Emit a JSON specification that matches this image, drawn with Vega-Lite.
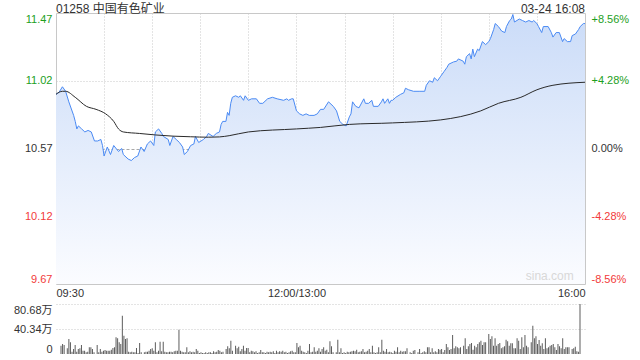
{
 "$schema": "https://vega.github.io/schema/vega-lite/v6.json",
 "background": "white",
 "padding": {"left": 5, "right": 5, "top": 2, "bottom": 5},
 "config": {
  "font": "Liberation Sans, Noto Sans CJK SC, sans-serif",
  "view": {"stroke": "#c8c8c8"},
  "axis": {"labelFont": "Liberation Sans, Noto Sans CJK SC, sans-serif", "labelFontSize": 11, "labelColor": "#333", "ticks": false, "domain": false, "title": null, "gridDash": [1, 2], "gridColor": "#c8c8c8", "gridWidth": 1}
 },
 "datasets": {
  "price": [
   {"t":0,"p":10.93},{"t":2,"p":10.945},{"t":4,"p":10.98},{"t":6,"p":10.95},{"t":8,"p":10.88},{"t":11,"p":10.79},{"t":12,"p":10.75},{"t":13,"p":10.70},{"t":14,"p":10.72},{"t":16,"p":10.70},{"t":18,"p":10.68},{"t":20,"p":10.69},{"t":22,"p":10.68},{"t":24,"p":10.62},{"t":26,"p":10.62},{"t":28,"p":10.63},{"t":29,"p":10.59},{"t":30,"p":10.52},{"t":32,"p":10.58},{"t":34,"p":10.53},{"t":36,"p":10.59},{"t":39,"p":10.55},{"t":41,"p":10.57},{"t":42,"p":10.53},{"t":45,"p":10.50},{"t":47,"p":10.49},{"t":49,"p":10.51},{"t":51,"p":10.52},{"t":53,"p":10.58},{"t":55,"p":10.55},{"t":57,"p":10.60},{"t":59,"p":10.62},{"t":61,"p":10.59},{"t":62,"p":10.68},{"t":64,"p":10.70},{"t":66,"p":10.67},{"t":67,"p":10.65},{"t":70,"p":10.63},{"t":71,"p":10.59},{"t":73,"p":10.65},{"t":75,"p":10.63},{"t":77,"p":10.61},{"t":79,"p":10.58},{"t":80,"p":10.53},{"t":82,"p":10.55},{"t":84,"p":10.59},{"t":86,"p":10.60},{"t":87,"p":10.65},{"t":89,"p":10.61},{"t":92,"p":10.63},{"t":94,"p":10.65},{"t":95,"p":10.67},{"t":98,"p":10.65},{"t":100,"p":10.67},{"t":102,"p":10.68},{"t":103,"p":10.73},{"t":104,"p":10.75},{"t":106,"p":10.75},{"t":107,"p":10.81},{"t":108,"p":10.79},{"t":109,"p":10.87},{"t":110,"p":10.91},{"t":112,"p":10.92},{"t":114,"p":10.91},{"t":115,"p":10.92},{"t":117,"p":10.89},{"t":118,"p":10.92},{"t":120,"p":10.89},{"t":122,"p":10.90},{"t":125,"p":10.90},{"t":127,"p":10.87},{"t":129,"p":10.87},{"t":132,"p":10.90},{"t":135,"p":10.91},{"t":138,"p":10.90},{"t":142,"p":10.89},{"t":144,"p":10.90},{"t":145,"p":10.89},{"t":147,"p":10.90},{"t":148,"p":10.90},{"t":150,"p":10.82},{"t":152,"p":10.80},{"t":154,"p":10.79},{"t":156,"p":10.80},{"t":158,"p":10.79},{"t":161,"p":10.79},{"t":163,"p":10.80},{"t":165,"p":10.83},{"t":167,"p":10.83},{"t":170,"p":10.88},{"t":173,"p":10.85},{"t":175,"p":10.82},{"t":177,"p":10.75},{"t":179,"p":10.73},{"t":181,"p":10.72},{"t":183,"p":10.78},{"t":184,"p":10.80},{"t":185,"p":10.88},{"t":187,"p":10.85},{"t":189,"p":10.84},{"t":192,"p":10.90},{"t":193,"p":10.87},{"t":195,"p":10.87},{"t":197,"p":10.89},{"t":198,"p":10.85},{"t":201,"p":10.85},{"t":203,"p":10.88},{"t":204,"p":10.90},{"t":205,"p":10.87},{"t":207,"p":10.90},{"t":208,"p":10.87},{"t":209,"p":10.89},{"t":210,"p":10.89},{"t":212,"p":10.91},{"t":215,"p":10.93},{"t":217,"p":10.94},{"t":218,"p":10.97},{"t":220,"p":10.96},{"t":223,"p":10.95},{"t":227,"p":10.95},{"t":230,"p":10.95},{"t":231,"p":10.99},{"t":233,"p":11.02},{"t":235,"p":11.01},{"t":236,"p":11.04},{"t":238,"p":11.02},{"t":240,"p":11.05},{"t":242,"p":11.08},{"t":244,"p":11.11},{"t":245,"p":11.13},{"t":248,"p":11.145},{"t":250,"p":11.15},{"t":251,"p":11.165},{"t":254,"p":11.15},{"t":255,"p":11.13},{"t":256,"p":11.18},{"t":258,"p":11.20},{"t":259,"p":11.165},{"t":260,"p":11.23},{"t":261,"p":11.18},{"t":263,"p":11.23},{"t":264,"p":11.22},{"t":266,"p":11.28},{"t":268,"p":11.26},{"t":270,"p":11.28},{"t":271,"p":11.30},{"t":273,"p":11.36},{"t":274,"p":11.40},{"t":276,"p":11.38},{"t":278,"p":11.35},{"t":280,"p":11.34},{"t":281,"p":11.38},{"t":283,"p":11.42},{"t":284,"p":11.43},{"t":285,"p":11.46},{"t":286,"p":11.41},{"t":289,"p":11.43},{"t":291,"p":11.42},{"t":293,"p":11.41},{"t":295,"p":11.42},{"t":297,"p":11.41},{"t":298,"p":11.42},{"t":300,"p":11.40},{"t":301,"p":11.38},{"t":303,"p":11.34},{"t":304,"p":11.38},{"t":307,"p":11.38},{"t":309,"p":11.34},{"t":310,"p":11.31},{"t":312,"p":11.34},{"t":314,"p":11.34},{"t":316,"p":11.28},{"t":317,"p":11.30},{"t":319,"p":11.28},{"t":321,"p":11.28},{"t":322,"p":11.32},{"t":324,"p":11.33},{"t":326,"p":11.36},{"t":327,"p":11.38},{"t":329,"p":11.40},{"t":330,"p":11.40}
  ],
  "avg": [
   {"t":0,"a":10.93},{"t":4,"a":10.95},{"t":6,"a":10.95},{"t":12,"a":10.91},{"t":19,"a":10.85},{"t":25,"a":10.83},{"t":31,"a":10.80},{"t":36,"a":10.75},{"t":39,"a":10.70},{"t":42,"a":10.68},{"t":52,"a":10.67},{"t":62,"a":10.66},{"t":73,"a":10.652},{"t":84,"a":10.648},{"t":95,"a":10.645},{"t":102,"a":10.647},{"t":108,"a":10.655},{"t":120,"a":10.68},{"t":150,"a":10.70},{"t":165,"a":10.71},{"t":183,"a":10.73},{"t":210,"a":10.74},{"t":240,"a":10.76},{"t":265,"a":10.82},{"t":276,"a":10.87},{"t":290,"a":10.91},{"t":300,"a":10.96},{"t":310,"a":10.99},{"t":330,"a":11.01}
  ],
  "vol": [
   {"t":0,"v":13.4},{"t":1,"v":16.1},{"t":2,"v":14.5},{"t":4,"v":9.1},{"t":5,"v":24.2},{"t":6,"v":18.8},{"t":7,"v":3.8},{"t":8,"v":8.1},{"t":9,"v":14.5},{"t":10,"v":3.8},{"t":11,"v":8.1},{"t":12,"v":9.1},{"t":13,"v":14.5},{"t":14,"v":5.4},{"t":15,"v":5.4},{"t":16,"v":2.7},{"t":17,"v":3.8},{"t":18,"v":10.8},{"t":19,"v":10.8},{"t":20,"v":8.1},{"t":21,"v":2.7},{"t":23,"v":14.5},{"t":24,"v":2.7},{"t":25,"v":8.1},{"t":26,"v":3.8},{"t":27,"v":5.4},{"t":28,"v":6.5},{"t":29,"v":5.4},{"t":30,"v":5.4},{"t":31,"v":5.4},{"t":32,"v":7},{"t":33,"v":9.7},{"t":34,"v":10.8},{"t":35,"v":26.9},{"t":36,"v":25.3},{"t":37,"v":18.8},{"t":38,"v":16.1},{"t":39,"v":61.9},{"t":40,"v":29.6},{"t":41,"v":24.2},{"t":42,"v":25.3},{"t":43,"v":3.8},{"t":44,"v":2.7},{"t":45,"v":3.8},{"t":46,"v":2.7},{"t":47,"v":2.7},{"t":48,"v":9.7},{"t":49,"v":1.6},{"t":50,"v":17.8},{"t":51,"v":2.7},{"t":53,"v":2.7},{"t":54,"v":3.8},{"t":55,"v":3.8},{"t":56,"v":5.4},{"t":57,"v":8.1},{"t":58,"v":9.1},{"t":59,"v":5.4},{"t":60,"v":18.8},{"t":61,"v":2.7},{"t":62,"v":5.4},{"t":63,"v":19.9},{"t":64,"v":4.3},{"t":65,"v":19.9},{"t":66,"v":3.8},{"t":67,"v":2.7},{"t":68,"v":2.7},{"t":69,"v":3.8},{"t":70,"v":3.8},{"t":71,"v":2.7},{"t":72,"v":4.3},{"t":73,"v":5.4},{"t":74,"v":5.4},{"t":75,"v":39.3},{"t":76,"v":5.4},{"t":77,"v":3.8},{"t":78,"v":2.7},{"t":79,"v":2.7},{"t":80,"v":10.8},{"t":81,"v":2.7},{"t":82,"v":4.3},{"t":83,"v":2.7},{"t":84,"v":3.8},{"t":85,"v":2.7},{"t":86,"v":8.1},{"t":87,"v":5.4},{"t":88,"v":1.6},{"t":89,"v":2.7},{"t":90,"v":1.6},{"t":91,"v":1.6},{"t":92,"v":2.7},{"t":93,"v":1.6},{"t":94,"v":2.7},{"t":95,"v":2.7},{"t":96,"v":1.6},{"t":97,"v":4.3},{"t":98,"v":2.7},{"t":99,"v":3.8},{"t":100,"v":6.5},{"t":101,"v":5.4},{"t":102,"v":2.7},{"t":103,"v":3.8},{"t":105,"v":8.1},{"t":106,"v":12.4},{"t":107,"v":9.1},{"t":108,"v":21.5},
   {"t":109,"v":5.4},{"t":111,"v":13.4},{"t":112,"v":9.1},{"t":113,"v":11.8},{"t":114,"v":4.3},{"t":115,"v":8.1},{"t":116,"v":13.4},{"t":117,"v":5.4},{"t":118,"v":9.7},{"t":119,"v":9.7},{"t":120,"v":2.7},{"t":121,"v":5.4},{"t":122,"v":4.3},{"t":123,"v":2.7},{"t":124,"v":4.3},{"t":125,"v":1.6},{"t":126,"v":2.7},{"t":127,"v":6.5},{"t":128,"v":2.7},{"t":129,"v":2.7},{"t":130,"v":1.6},{"t":131,"v":3.8},{"t":132,"v":2.7},{"t":133,"v":3.8},{"t":134,"v":2.7},{"t":135,"v":4.3},{"t":136,"v":1.6},{"t":137,"v":5.4},{"t":138,"v":2.7},{"t":139,"v":4.3},{"t":140,"v":3.8},{"t":141,"v":5.4},{"t":142,"v":2.7},{"t":143,"v":3.8},{"t":144,"v":1.6},{"t":145,"v":2.7},{"t":146,"v":4.3},{"t":147,"v":5.4},{"t":148,"v":2.7},{"t":149,"v":2.7},{"t":150,"v":17.8},{"t":151,"v":10.8},{"t":152,"v":13.4},{"t":153,"v":5.4},{"t":154,"v":3.8},{"t":155,"v":2.7},{"t":156,"v":1.6},{"t":157,"v":5.4},{"t":158,"v":16.1},{"t":159,"v":2.7},{"t":160,"v":3.8},{"t":161,"v":10.8},{"t":162,"v":3.8},{"t":163,"v":5.4},{"t":164,"v":9.1},{"t":165,"v":3.8},{"t":166,"v":8.1},{"t":167,"v":10.8},{"t":168,"v":5.4},{"t":169,"v":7},{"t":170,"v":2.7},{"t":171,"v":20.4},{"t":172,"v":12.4},{"t":173,"v":2.7},{"t":175,"v":2.7},{"t":176,"v":23.1},{"t":177,"v":2.7},{"t":178,"v":9.1},{"t":179,"v":1.6},{"t":180,"v":2.7},{"t":181,"v":1.6},{"t":182,"v":3.8},{"t":183,"v":2.7},{"t":184,"v":3.8},{"t":185,"v":4.3},{"t":186,"v":5.4},{"t":187,"v":4.3},{"t":188,"v":7},{"t":189,"v":2.7},{"t":190,"v":3.8},{"t":191,"v":4.3},{"t":192,"v":8.1},{"t":193,"v":2.7},{"t":194,"v":3.8},{"t":195,"v":5.4},{"t":196,"v":8.1},{"t":197,"v":2.7},{"t":198,"v":13.4},{"t":199,"v":2.7},{"t":200,"v":1.6},{"t":201,"v":2.7},{"t":202,"v":10.8},{"t":203,"v":2.7},{"t":204,"v":23.1},{"t":205,"v":5.4},{"t":206,"v":3.8},{"t":207,"v":8.1},{"t":208,"v":2.7},{"t":209,"v":3.8},{"t":210,"v":2.7},{"t":211,"v":1.6},{"t":212,"v":5.4},{"t":213,"v":3.8},{"t":214,"v":10.8},{"t":215,"v":2.7},{"t":216,"v":5.4},{"t":217,"v":3.8},
   {"t":218,"v":4.3},{"t":219,"v":4.3},{"t":220,"v":9.1},{"t":222,"v":2.7},{"t":223,"v":1.6},{"t":224,"v":5.4},{"t":225,"v":6.5},{"t":227,"v":2.7},{"t":228,"v":8.1},{"t":229,"v":1.6},{"t":230,"v":2.7},{"t":231,"v":4.3},{"t":232,"v":2.7},{"t":233,"v":10.8},{"t":234,"v":10.8},{"t":235,"v":2.7},{"t":236,"v":9.1},{"t":237,"v":2.7},{"t":238,"v":4.3},{"t":239,"v":2.7},{"t":240,"v":8.1},{"t":241,"v":7},{"t":242,"v":8.1},{"t":243,"v":2.7},{"t":244,"v":6.5},{"t":245,"v":16.1},{"t":246,"v":10.8},{"t":247,"v":6.5},{"t":248,"v":8.1},{"t":249,"v":30.7},{"t":250,"v":9.1},{"t":251,"v":12.4},{"t":252,"v":10.8},{"t":253,"v":9.1},{"t":254,"v":10.8},{"t":256,"v":13.4},{"t":257,"v":25.3},{"t":258,"v":8.1},{"t":259,"v":12.4},{"t":260,"v":16.1},{"t":261,"v":17.8},{"t":262,"v":7},{"t":263,"v":13.4},{"t":264,"v":10.8},{"t":265,"v":16.1},{"t":266,"v":18.8},{"t":267,"v":21.5},{"t":268,"v":14.5},{"t":269,"v":18.8},{"t":270,"v":18.8},{"t":272,"v":32.3},{"t":273,"v":24.2},{"t":274,"v":28.5},{"t":275,"v":13.4},{"t":276,"v":25.3},{"t":277,"v":13.4},{"t":278,"v":16.1},{"t":279,"v":17.8},{"t":280,"v":9.1},{"t":281,"v":10.8},{"t":282,"v":12.4},{"t":283,"v":23.1},{"t":284,"v":20.4},{"t":285,"v":13.4},{"t":286,"v":17.2},{"t":287,"v":17.2},{"t":288,"v":9.1},{"t":289,"v":9.1},{"t":290,"v":25.3},{"t":291,"v":21.5},{"t":292,"v":8.1},{"t":293,"v":26.9},{"t":294,"v":10.8},{"t":295,"v":30.7},{"t":296,"v":13.4},{"t":297,"v":10.8},{"t":299,"v":18.8},{"t":300,"v":45.7},{"t":301,"v":25.3},{"t":302,"v":28.5},{"t":303,"v":16.1},{"t":304,"v":22.6},{"t":305,"v":13.4},{"t":306,"v":17.2},{"t":307,"v":8.1},{"t":308,"v":25.3},{"t":309,"v":9.1},{"t":310,"v":10.8},{"t":311,"v":13.4},{"t":312,"v":14.5},{"t":313,"v":16.1},{"t":314,"v":10.8},{"t":315,"v":6.5},{"t":316,"v":16.1},{"t":317,"v":12.4},{"t":318,"v":9.1},{"t":319,"v":25.3},{"t":320,"v":8.1},{"t":321,"v":10.8},{"t":322,"v":10.8},{"t":323,"v":10.8},{"t":325,"v":8.1},{"t":326,"v":9.1},{"t":327,"v":11.8},{"t":328,"v":4.3},{"t":329,"v":3.8},{"t":330,"v":80.6}
  ],
  "pct": [{"pct": 0}],
  "head": [{"label": "01258 中国有色矿业", "stamp": "03-24 16:08", "mark": "sina.com"}]
 },
 "spacing": 5,
 "vconcat": [
  {
   "width": 529,
   "height": 271,
   "layer": [
    {
     "layer": [
      {
       "data": {"name": "price"},
       "mark": {"type": "area", "color": {"gradient": "linear", "x1": 0, "y1": 0, "x2": 0, "y2": 1, "stops": [{"offset": 0, "color": "#cbdcf8"}, {"offset": 1, "color": "#fbfcff"}]}},
       "encoding": {
        "x": {"field": "t", "type": "quantitative", "scale": {"domain": [0, 330], "nice": false, "zero": false},
         "axis": {"values": [0, 30, 60, 90, 120, 150, 180, 210, 240, 270, 300, 330], "labelFlush": true, "labelPadding": 3,
          "labelExpr": "datum.value==0?'09:30':datum.value==150?'12:00/13:00':datum.value==330?'16:00':''",
          "gridColor": {"condition": {"test": "datum.value==0||datum.value==330", "value": "transparent"}, "value": "#c8c8c8"}}},
        "y": {"field": "p", "type": "quantitative", "scale": {"domain": [9.67, 11.47], "nice": false, "zero": false},
         "axis": {"values": [9.67, 10.12, 10.57, 11.02, 11.47], "format": ".2f", "labelFlush": true, "labelPadding": 4, "minExtent": 50, "maxExtent": 50,
          "labelColor": {"condition": [{"test": "datum.value>10.6", "value": "#1da01d"}, {"test": "datum.value<10.5", "value": "#f23a3a"}], "value": "#333333"},
          "gridColor": {"condition": [{"test": "datum.value<9.7||datum.value>11.4", "value": "transparent"}, {"test": "datum.value==10.57", "value": "#a8a8a8"}], "value": "#c8c8c8"},
          "gridDash": {"condition": {"test": "datum.value==10.57", "value": [3, 2]}, "value": [1, 2]}}},
        "y2": {"datum": 9.67}
       }
      },
      {
       "data": {"name": "price"},
       "mark": {"type": "line", "color": "#4a8af4", "strokeWidth": 1},
       "encoding": {"x": {"field": "t", "type": "quantitative"}, "y": {"field": "p", "type": "quantitative"}}
      },
      {
       "data": {"name": "avg"},
       "mark": {"type": "line", "color": "#2a2a2a", "strokeWidth": 1, "interpolate": "monotone"},
       "encoding": {"x": {"field": "t", "type": "quantitative"}, "y": {"field": "a", "type": "quantitative"}}
      },
      {
       "data": {"name": "head"},
       "mark": {"type": "text", "align": "left", "baseline": "bottom", "dy": 3, "fontSize": 12, "color": "#333333", "font": "Liberation Sans, Noto Sans CJK SC, sans-serif"},
       "encoding": {"x": {"datum": 0}, "y": {"datum": 11.47}, "text": {"field": "label"}}
      },
      {
       "data": {"name": "head"},
       "mark": {"type": "text", "align": "right", "baseline": "bottom", "dy": 3, "fontSize": 12, "color": "#333333", "font": "Liberation Sans, sans-serif"},
       "encoding": {"x": {"datum": 330}, "y": {"datum": 11.47}, "text": {"field": "stamp"}}
      },
      {
       "data": {"name": "head"},
       "mark": {"type": "text", "align": "right", "baseline": "bottom", "dy": -1, "fontSize": 12, "color": "#d8d8d8", "font": "Liberation Sans, sans-serif"},
       "encoding": {"x": {"datum": 323}, "y": {"datum": 9.67}, "text": {"field": "mark"}}
      }
     ]
    },
    {
     "data": {"name": "pct"},
     "mark": {"type": "point", "opacity": 0},
     "encoding": {
      "y": {"field": "pct", "type": "quantitative", "scale": {"domain": [-8.56, 8.56], "nice": false, "zero": false},
       "axis": {"orient": "right", "values": [-8.56, -4.28, 0, 4.28, 8.56], "grid": false, "labelFlush": true, "labelPadding": 6,
        "labelExpr": "(datum.value>0?'+':datum.value<0?'-':'')+format(abs(datum.value),'.2f')+'%'",
        "labelColor": {"condition": [{"test": "datum.value>0", "value": "#1da01d"}, {"test": "datum.value<0", "value": "#f23a3a"}], "value": "#333333"}}}
     }
    }
   ],
   "resolve": {"scale": {"y": "independent"}}
  },
  {
   "width": 529,
   "height": 50,
   "view": {"stroke": null},
   "data": {"name": "vol"},
   "mark": {"type": "bar", "width": 1, "color": "#5c5c5c"},
   "encoding": {
    "x": {"field": "t", "type": "quantitative", "scale": {"domain": [0, 330], "nice": false, "zero": false}, "axis": null},
    "y": {"field": "v", "type": "quantitative", "scale": {"domain": [0, 80.68], "nice": false},
     "axis": {"values": [0, 40.34, 80.68], "labelFlush": true, "labelPadding": 4, "minExtent": 50, "maxExtent": 50,
      "labelExpr": "datum.value==0?'0':format(datum.value,'.2f')+'万'",
      "gridColor": {"condition": {"test": "datum.value==0", "value": "transparent"}, "value": "#c8c8c8"}}}
   }
  }
 ]
}
